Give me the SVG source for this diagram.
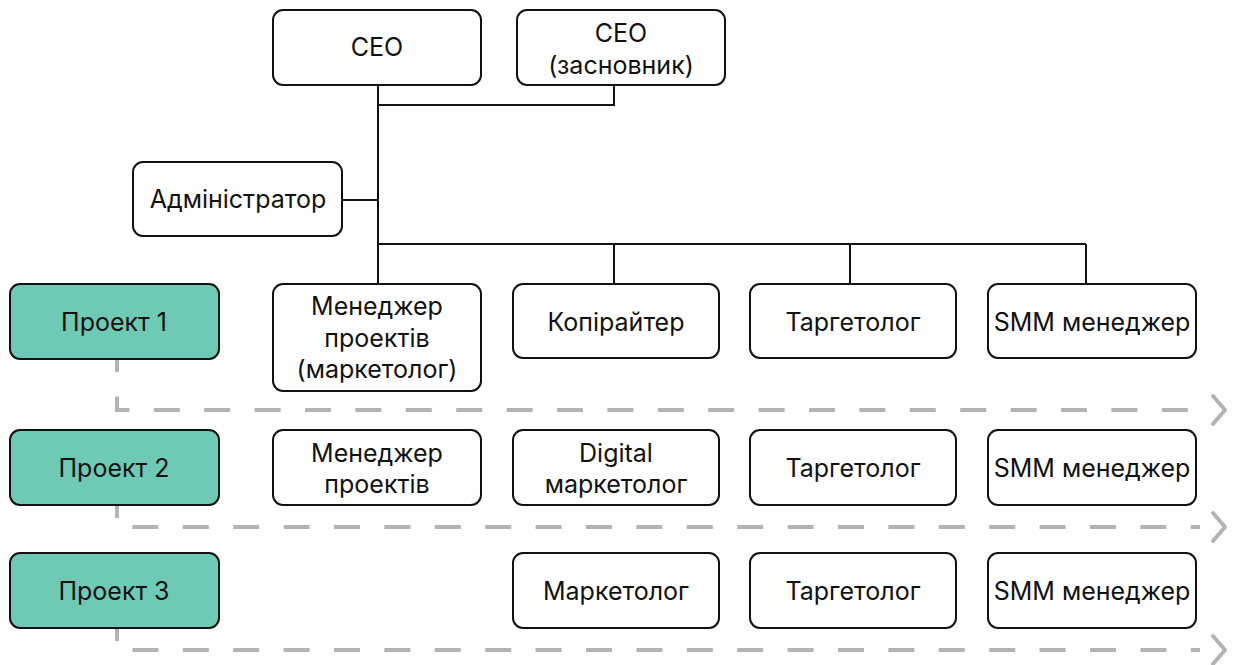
<svg xmlns="http://www.w3.org/2000/svg" width="1235" height="665" viewBox="0 0 1235 665">
  <style>
    .box { fill: #ffffff; stroke: #111111; stroke-width: 2; }
    .proj { fill: #6fcab5; stroke: #111111; stroke-width: 2; }
    .lbl { font-family: Inter, "Noto Sans", "Liberation Sans", sans-serif; font-size: 25px; fill: #111111; text-anchor: middle; dominant-baseline: central; }
    .link { fill: none; stroke: #111111; stroke-width: 2; }
    .lane { fill: none; stroke: #b3b3b3; stroke-width: 4; stroke-dasharray: 26 24.4; stroke-dashoffset: 13; }
    .chev { fill: none; stroke: #b3b3b3; stroke-width: 4; stroke-linecap: round; stroke-linejoin: round; }
  </style>
  <rect width="1235" height="665" fill="#ffffff"/>

  <!-- reporting lines -->
  <g id="connectors">
    <path class="link" d="M378 85 V244"/>
    <path class="link" d="M614 85 V105 H378"/>
    <path class="link" d="M342 200 H378"/>
    <path class="link" d="M378 244 H1086"/>
    <path class="link" d="M378 244 V284"/>
    <path class="link" d="M614 244 V284"/>
    <path class="link" d="M850 244 V284"/>
    <path class="link" d="M1086 244 V284"/>
  </g>

  <!-- project lanes -->
  <g id="lanes">
    <path class="lane" d="M117 359 V410 H1200"/>
    <polyline class="chev" points="1213,396 1225,410 1213,424"/>
    <path class="lane" d="M117 505 V527 H1200"/>
    <polyline class="chev" points="1213,513 1225,527 1213,541"/>
    <path class="lane" d="M117 628 V650 H1200"/>
    <polyline class="chev" points="1213,636 1225,650 1213,664"/>
  </g>

  <g id="ceo">
    <rect class="box" x="273" y="10" width="208" height="75" rx="10"/>
    <text class="lbl" x="377" y="47">CEO</text>
  </g>
  <g id="ceo-founder">
    <rect class="box" x="517" y="10" width="208" height="75" rx="10"/>
    <text class="lbl" x="621" y="33">CEO</text>
    <text class="lbl" x="621" y="65">(засновник)</text>
  </g>
  <g id="admin">
    <rect class="box" x="133" y="162" width="209" height="74" rx="10"/>
    <text class="lbl" x="238" y="199">Адміністратор</text>
  </g>

  <!-- Project 1 -->
  <g id="project-1">
    <rect class="proj" x="10" y="284" width="209" height="75" rx="10"/>
    <text class="lbl" x="114" y="322">Проект 1</text>
  </g>
  <g id="p1-pm">
    <rect class="box" x="273" y="284" width="208" height="107" rx="10"/>
    <text class="lbl" x="377" y="306">Менеджер</text>
    <text class="lbl" x="377" y="338">проектів</text>
    <text class="lbl" x="377" y="369">(маркетолог)</text>
  </g>
  <g id="p1-copy">
    <rect class="box" x="513" y="284" width="206" height="74" rx="10"/>
    <text class="lbl" x="616" y="322">Копірайтер</text>
  </g>
  <g id="p1-target">
    <rect class="box" x="750" y="284" width="206" height="74" rx="10"/>
    <text class="lbl" x="853" y="322">Таргетолог</text>
  </g>
  <g id="p1-smm">
    <rect class="box" x="988" y="284" width="208" height="74" rx="10"/>
    <text class="lbl" x="1092" y="322">SMM менеджер</text>
  </g>

  <!-- Project 2 -->
  <g id="project-2">
    <rect class="proj" x="10" y="430" width="209" height="75" rx="10"/>
    <text class="lbl" x="114" y="468">Проект 2</text>
  </g>
  <g id="p2-pm">
    <rect class="box" x="273" y="430" width="208" height="75" rx="10"/>
    <text class="lbl" x="377" y="453">Менеджер</text>
    <text class="lbl" x="377" y="484">проектів</text>
  </g>
  <g id="p2-digital">
    <rect class="box" x="513" y="430" width="206" height="75" rx="10"/>
    <text class="lbl" x="616" y="453">Digital</text>
    <text class="lbl" x="616" y="484">маркетолог</text>
  </g>
  <g id="p2-target">
    <rect class="box" x="750" y="430" width="206" height="75" rx="10"/>
    <text class="lbl" x="853" y="468">Таргетолог</text>
  </g>
  <g id="p2-smm">
    <rect class="box" x="988" y="430" width="208" height="75" rx="10"/>
    <text class="lbl" x="1092" y="468">SMM менеджер</text>
  </g>

  <!-- Project 3 -->
  <g id="project-3">
    <rect class="proj" x="10" y="553" width="209" height="75" rx="10"/>
    <text class="lbl" x="114" y="591">Проект 3</text>
  </g>
  <g id="p3-marketer">
    <rect class="box" x="513" y="553" width="206" height="75" rx="10"/>
    <text class="lbl" x="616" y="591">Маркетолог</text>
  </g>
  <g id="p3-target">
    <rect class="box" x="750" y="553" width="206" height="75" rx="10"/>
    <text class="lbl" x="853" y="591">Таргетолог</text>
  </g>
  <g id="p3-smm">
    <rect class="box" x="988" y="553" width="208" height="75" rx="10"/>
    <text class="lbl" x="1092" y="591">SMM менеджер</text>
  </g>
</svg>
